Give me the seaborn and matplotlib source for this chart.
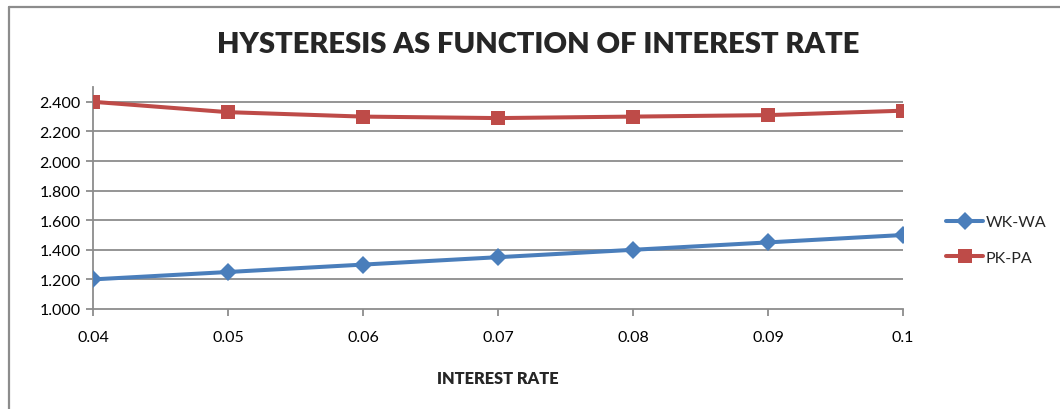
import matplotlib
matplotlib.use("Agg")
import matplotlib.pyplot as plt
import seaborn as sns
import pandas as pd
from matplotlib.lines import Line2D

rates = [0.04, 0.05, 0.06, 0.07, 0.08, 0.09, 0.1]
rate_labels = ["0.04", "0.05", "0.06", "0.07", "0.08", "0.09", "0.1"]
wk_wa = [1.20, 1.25, 1.30, 1.35, 1.40, 1.45, 1.50]
pk_pa = [2.40, 2.33, 2.30, 2.29, 2.30, 2.31, 2.34]
series_names = ["WK-WA", "PK-PA"]
y_ticks = [1.0, 1.2, 1.4, 1.6, 1.8, 2.0, 2.2, 2.4]

sns.set_theme(style="white")
plt.rcParams["font.family"] = ["Lato", "DejaVu Sans"]

df = pd.DataFrame({
    "rate": rates * 2,
    "value": wk_wa + pk_pa,
    "series": [series_names[0]] * len(rates) + [series_names[1]] * len(rates),
})

colors = {"WK-WA": "#4A7EBB", "PK-PA": "#BE4B48"}
markers = {"WK-WA": "D", "PK-PA": "s"}
msize = {"WK-WA": 9.5, "PK-PA": 10.5}

fig = plt.figure(figsize=(10.6, 4.1), dpi=100)
ax = fig.add_axes([93 / 1060, 1 - 310 / 410, (903 - 93) / 1060, (310 - 88) / 410])

for n in series_names:
    sub = df[df["series"] == n]
    sns.lineplot(data=sub, x="rate", y="value", color=colors[n], marker=markers[n],
                 linewidth=2.9, markersize=msize[n], markeredgewidth=0, ax=ax,
                 legend=False, zorder=3)

ax.set_xlim(0.04, 0.1)
ax.set_ylim(1.0, 2.5)
ax.set_yticks(y_ticks)
ax.set_yticklabels([f"{v:.3f}" for v in y_ticks], fontsize=11.5, color="black")
ax.set_xticks(rates)
ax.set_xticklabels(rate_labels, fontsize=11.5, color="black")
for y in y_ticks[1:]:
    ax.axhline(y, color="#8C8C8C", linewidth=1.3, zorder=1)

for s in ["top", "right"]:
    ax.spines[s].set_visible(False)
for s in ["left", "bottom"]:
    ax.spines[s].set_color("#8C8C8C")
    ax.spines[s].set_linewidth(1.3)
ax.tick_params(axis="both", which="both", direction="out", length=5, width=1.3,
               color="#8C8C8C", bottom=True, left=True, pad=4)
ax.tick_params(axis="x", pad=10)
ax.set_xlabel("INTEREST RATE", fontsize=11.8, fontweight="heavy", labelpad=19)
ax.set_ylabel("")

fig.text(538 / 1060, 1 - 45 / 410, "HYSTERESIS AS FUNCTION OF INTEREST RATE",
         ha="center", va="center", fontsize=21, fontweight="heavy")

handles = [Line2D([0], [0], color=colors[n], marker=markers[n], linewidth=2.9,
                  markersize=msize[n], markeredgewidth=0) for n in series_names]
fig.legend(handles, series_names, loc="center left",
           bbox_to_anchor=(932 / 1060, 1 - 241 / 410), frameon=False,
           fontsize=11.5, handlelength=2.3, handletextpad=0.15, labelspacing=1.35)

# outer chart border (top and left visible)
fig.add_artist(Line2D([8.5 / 1060, 8.5 / 1060], [0, 1 - 7.5 / 410],
                      transform=fig.transFigure, color="#8C8C8C", linewidth=1.6))
fig.add_artist(Line2D([8.5 / 1060, 1], [1 - 7.5 / 410, 1 - 7.5 / 410],
                      transform=fig.transFigure, color="#8C8C8C", linewidth=1.6))

fig.savefig("out.png", dpi=100)
